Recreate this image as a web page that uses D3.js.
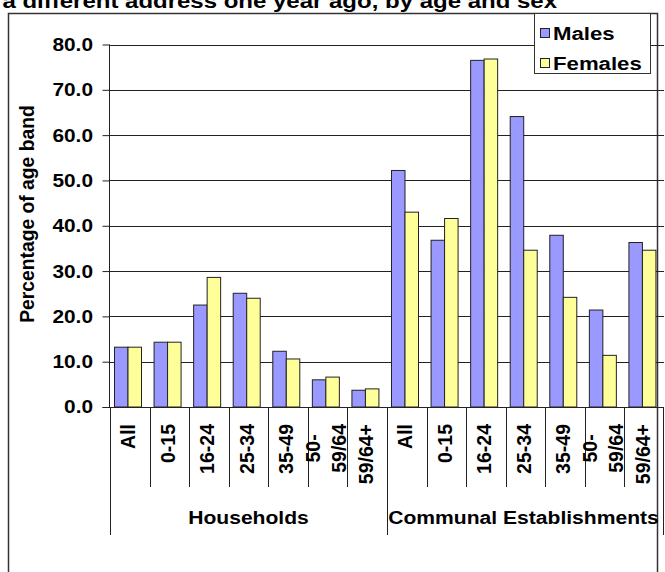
<!DOCTYPE html>
<html>
<head>
<meta charset="utf-8">
<script src="https://d3js.org/d3.v7.min.js"></script>
<style>
  body { margin: 0; background: #fff; }
  svg { display: block; }
  text { font-family: "Liberation Sans", Arial, sans-serif; font-weight: bold; fill: #000; }
</style>
</head>
<body>
<div id="chart"></div>
<script>
// data
var groups = ["Households", "Communal Establishments"];
var ageBands = ["All", "0-15", "16-24", "25-34", "35-49", "50-\n59/64", "59/64+"];
var series = ["Males", "Females"];
var malesHH = [13.2, 14.3, 22.5, 25.1, 12.3, 6.0, 3.7];
var femalesHH = [13.2, 14.3, 28.6, 24.0, 10.6, 6.6, 4.0];
var malesCE = [52.2, 36.8, 76.5, 64.1, 37.9, 21.4, 36.3];
var femalesCE = [43.0, 41.6, 76.8, 34.6, 24.2, 11.4, 34.6];
var yTicks = [0, 10, 20, 30, 40, 50, 60, 70, 80];
var colors = ["#9999ff", "#ffff99"];

var W = 665, H = 572;
var dims = { left: 109.5, right: 664, top: 44.5, bottom: 407 };

// one row per bar pair
var rows = [];
groups.forEach(function(g, gi) {
    var m = gi == 0 ? malesHH : malesCE;
    var f = gi == 0 ? femalesHH : femalesCE;
    ageBands.forEach(function(b, i) {
        rows.push({ key: gi + "|" + i, group: g, band: b, values: [m[i], f[i]] });
    });
});

var svg = d3.select("#chart").append("svg")
    .attr("width", W)
    .attr("height", H);

svg.append("rect").attr("width", W).attr("height", H).attr("fill", "#fff");

// outer chart border (bottom runs off the picture)
svg.append("rect")
    .attr("x", 8.5).attr("y", 13.5)
    .attr("width", 649).attr("height", 620)
    .attr("fill", "none").attr("stroke", "#333").attr("stroke-width", 1.5);

// title, cut off at the top in the original too
svg.append("text")
    .attr("text-anchor", "end")
    .attr("transform", "translate(557,7.5) scale(1.2,1)")
    .style("font-size", "20px")
    .text("a different address one year ago, by age and sex");

var x0 = d3.scaleBand()
    .domain(rows.map(function(d) { return d.key; }))
    .range([dims.left + 0.5, dims.right]);
var x1 = d3.scaleBand()
    .domain(series)
    .range([4.5, 31.5]);
var y = d3.scaleLinear()
    .domain([0, 80])
    .range([dims.bottom, dims.top]);

// gridlines
svg.append("g").selectAll("line")
    .data(yTicks.slice(1))
    .enter().append("line")
    .attr("x1", dims.left).attr("x2", dims.right)
    .attr("y1", function(d) { return Math.round(y(d)) + 0.5; })
    .attr("y2", function(d) { return Math.round(y(d)) + 0.5; })
    .attr("stroke", "#222").attr("stroke-width", 1);

// bars
var bars = svg.append("g").selectAll("g")
    .data(rows)
    .enter().append("g")
    .attr("transform", function(d) { return "translate(" + x0(d.key) + ",0)"; });
bars.selectAll("rect")
    .data(function(d) { return d.values.map(function(v, i) { return { s: series[i], v: v, i: i }; }); })
    .enter().append("rect")
    .attr("x", function(d) { return x1(d.s); })
    .attr("width", x1.bandwidth())
    .attr("y", function(d) { return y(d.v); })
    .attr("height", function(d) { return y(0) - y(d.v); })
    .attr("fill", function(d) { return colors[d.i]; })
    .attr("stroke", "#222").attr("stroke-width", 1);

// y axis
var tickSx = 1.12;
var yAxis = svg.append("g")
    .attr("transform", "translate(" + dims.left + ",0)")
    .call(d3.axisLeft(y).tickValues(yTicks).tickSize(7)
        .tickPadding(16.5 / tickSx - 7)
        .tickFormat(d3.format(".1f")));
yAxis.select(".domain").attr("stroke", "#222").attr("d", "M0," + dims.top + "V" + dims.bottom);
yAxis.selectAll(".tick line").attr("stroke", "#222");
yAxis.selectAll(".tick text")
    .attr("transform", "scale(" + tickSx + ",1)")
    .style("font-size", "18.6px")
    .style("font-family", "'Liberation Sans', Arial, sans-serif")
    .style("font-weight", "bold")
    .attr("fill", "#000");

svg.append("text")
    .attr("transform", "translate(27,214) rotate(-90)")
    .attr("text-anchor", "middle")
    .attr("dy", "0.35em")
    .style("font-size", "19.3px")
    .text("Percentage of age band");

// category axis
var catAxis = svg.append("g").attr("stroke", "#222").attr("stroke-width", 1);
catAxis.append("line")
    .attr("x1", dims.left - 7).attr("x2", dims.right)
    .attr("y1", dims.bottom + 0.5).attr("y2", dims.bottom + 0.5);
rows.forEach(function(d, i) {
    var xx = Math.round(x0(d.key)) + 0.5;
    var groupStart = i % ageBands.length == 0;
    catAxis.append("line")
        .attr("x1", xx).attr("x2", xx)
        .attr("y1", dims.bottom).attr("y2", groupStart ? 535 : 487);
});
catAxis.append("line")
    .attr("x1", dims.right - 0.5).attr("x2", dims.right - 0.5)
    .attr("y1", dims.bottom).attr("y2", 535);

// age band labels, rotated
var labelTop = 424;
var bandLabels = svg.append("g").selectAll("g")
    .data(rows)
    .enter().append("g")
    .attr("transform", function(d) { return "translate(" + (x0(d.key) + x0.bandwidth() / 2) + ",0)"; });
bandLabels.each(function(d) {
    var g = d3.select(this);
    var lines = d.band.split("\n");
    var n = lines.length;
    var texts = lines.map(function(l) {
        return g.append("text")
            .attr("dy", "0.35em")
            .style("font-size", "19.5px")
            .text(l);
    });
    var widest = d3.max(texts, function(t) { return t.node().getComputedTextLength(); });
    texts.forEach(function(t, li) {
        var off = (li - (n - 1) / 2) * 25.7 - 1.5;
        t.attr("text-anchor", "middle")
            .attr("transform", "translate(" + off + "," + (labelTop + widest / 2) + ") rotate(-90)");
    });
});

// group labels
groups.forEach(function(g, gi) {
    var first = x0(gi + "|0");
    var last = x0(gi + "|" + (ageBands.length - 1)) + x0.bandwidth();
    svg.append("text")
        .attr("text-anchor", "middle")
        .attr("transform", "translate(" + ((first + last) / 2 - (gi ? 2 : 0)) + ",523.5) scale(1.14,1)")
        .style("font-size", "18.5px")
        .text(g);
});

// legend
var legend = svg.append("g");
legend.append("rect")
    .attr("x", 534.5).attr("y", 13.5)
    .attr("width", 116).attr("height", 60)
    .attr("fill", "#fff").attr("stroke", "#333").attr("stroke-width", 1);
series.forEach(function(s, i) {
    var ly = 28.5 + i * 30;
    legend.append("rect")
        .attr("x", 540.5).attr("y", ly)
        .attr("width", 9).attr("height", 9)
        .attr("fill", colors[i]).attr("stroke", "#222").attr("stroke-width", 1);
    legend.append("text")
        .attr("transform", "translate(553," + (ly + 11) + ") scale(1.2,1)")
        .style("font-size", "18.5px")
        .text(s);
});
</script>
</body>
</html>
